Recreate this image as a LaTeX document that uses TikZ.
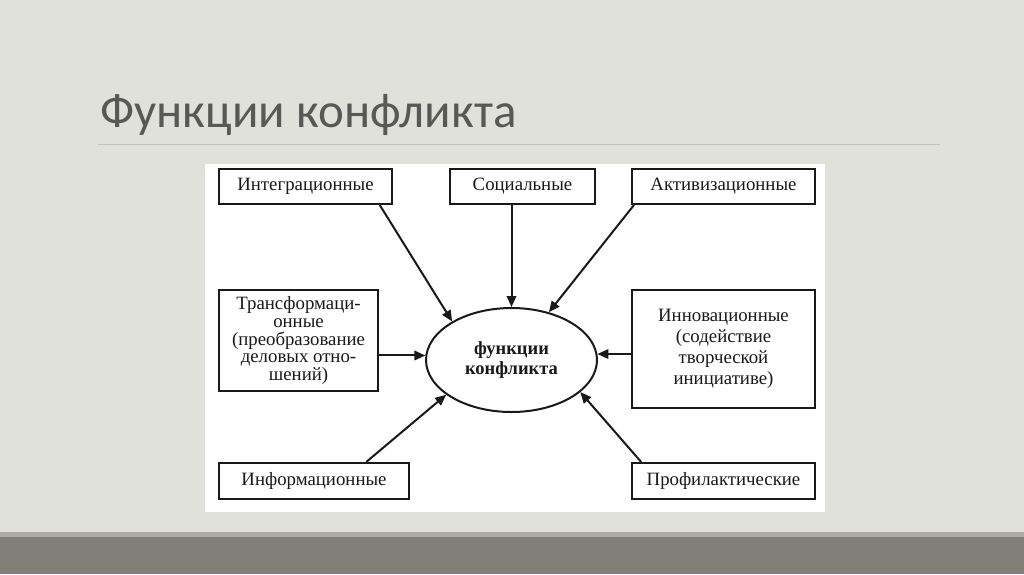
\documentclass[tikz,border=0pt]{standalone}
\usepackage{fontspec}
\usetikzlibrary{shapes.geometric,arrows.meta}
\setmainfont{Liberation Serif}
\newfontfamily\titlefont{Carlito}
\definecolor{slidebg}{RGB}{225,225,219}
\definecolor{barstrip}{RGB}{172,172,166}
\definecolor{bardark}{RGB}{128,128,120}
\definecolor{ruleline}{RGB}{196,196,190}
\definecolor{titlegray}{RGB}{88,88,86}
\definecolor{ink}{RGB}{25,25,25}
\tikzset{
  fbox/.style={draw=ink,line width=2pt,fill=white,inner sep=0pt,
    font=\fontsize{18.8}{17.7}\selectfont,text=ink,align=center},
  feed/.style={draw=ink,line width=2pt,-{Triangle[length=11pt,width=9.5pt]}}
}
\begin{document}
\begin{tikzpicture}[x=1pt,y=-1pt]
  % slide
  \fill[slidebg] (0,0) rectangle (1024,574);
  \fill[barstrip] (0,532) rectangle (1024,537);
  \fill[bardark] (0,537) rectangle (1024,574);
  \node[anchor=base west,inner sep=0pt,text=titlegray,
    font=\titlefont\fontsize{49}{52}\selectfont] (title) at (100,127) {Функции конфликта};
  \draw[ruleline,line width=1pt] (98,144) -- (940,144);
  \fill[white] (205,164) rectangle (825,512);
  % boxes
  \begin{scope}[every node/.style={fbox}]
  \node[minimum width=173pt,minimum height=35pt] (integ) at (305.5,186.5) {Интеграционные};
  \node[minimum width=145pt,minimum height=35pt] (soc) at (522.5,186.5) {Социальные};
  \node[minimum width=183pt,minimum height=35pt] (act) at (723.5,186.5) {Активизационные};
  \node[minimum width=159pt,minimum height=101pt] (trans) at (298.5,340.5)
    {Трансформаци-\\онные\\(преобразование\\деловых отно-\\шений)};
  \node[minimum width=183pt,minimum height=118pt,
    font=\fontsize{18.8}{21}\selectfont] (innov) at (723.5,349)
    {Инновационные\\(содействие\\творческой\\инициативе)};
  \node[minimum width=190pt,minimum height=36pt] (info) at (314,481) {Информационные};
  \node[minimum width=183pt,minimum height=36pt] (prof) at (723.5,481) {Профилактические};
  \node[ellipse,minimum width=171pt,minimum height=104pt,
    font=\bfseries\fontsize{18.5}{19.5}\selectfont] (core) at (511.5,360) {функции\\конфликта};
  \end{scope}
  % arrows
  \begin{scope}[every edge/.style={feed}]
  \path (integ.-14) edge (core.147);
  \path (soc.south -| core.north) edge (core.north);
  \path ([xshift=3pt]act.south west) edge (core.52);
  \path (trans.east |- core.177) edge (core.177);
  \path (innov.west |- core.4) edge (core.4);
  \path (info.20) edge (core.208);
  \path (prof.167) edge (core.-25);
  \end{scope}
\end{tikzpicture}
\end{document}
